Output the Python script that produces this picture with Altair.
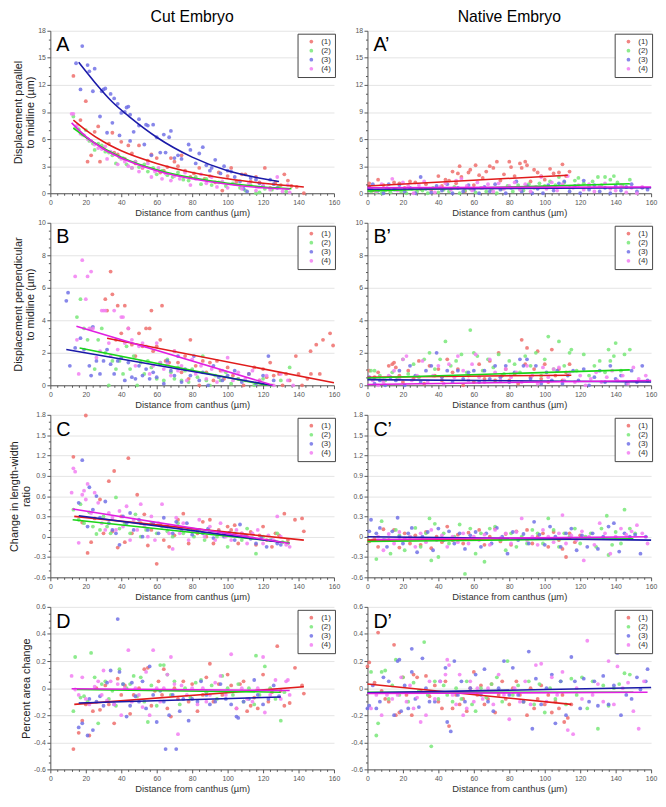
import altair as alt
import pandas as pd

SERIES = ["(1)", "(2)", "(3)", "(4)"]
POINT_COLORS = ["#ef6f6c", "#79e879", "#7272e6", "#f27ff2"]
LINE_COLORS = ["#e01b1b", "#19d419", "#1a1aa8", "#e11fe1"]
FONT = "Liberation Sans"

# ---------------- Row A: displacement parallel to midline ----------------
A_cut_1 = [(13,13),(17,8.1),(20,10.2),(21,3.5),(23,4.2),(25,6.8),(27,7.4),(28,3.5),(30,5),(33,5.5),(35,6.7),(36,4.5),(38,4.3),(40,5.7),(42,3.8),(44,5.3),(46,4.4),(48,3.3),(50,5.3),(52,2.8),(55,3.6),(57,4.3),(60,3.9),(62,2.3),(64,2.5),(66,2.9),(68,3.9),(70,3.5),(72,3.0),(74,4.2),(76,2.5),(79,1.8),(81,2.2),(84,2.8),(87,1.6),(90,1.9),(93,1.2),(95,2.3),(97,0.3),(100,1.9),(102,2.8),(105,1.3),(108,2.1),(110,2.1),(113,1.3),(116,1.8),(118,1.2),(121,2.8),(124,0.6),(127,1.2),(130,0.9),(132,2.1),(134,1.4),(136,0.8),(139,0.7),(143,0)]
A_cut_2 = [(13,8.5),(14,7.2),(16,7.1),(18,6.5),(20,7),(22,5.8),(24,5.5),(25,4.8),(27,5.5),(29,5.3),(31,4.6),(33,4.5),(35,4.2),(37,3.3),(39,4.0),(41,3.9),(43,3.2),(46,2.8),(48,3.5),(50,2.9),(53,3.2),(55,2.4),(58,2.8),(60,2.1),(63,2.5),(66,2.0),(69,1.8),(72,2.3),(75,1.5),(78,1.4),(82,1.8),(85,1.0),(88,1.6),(91,0.9),(95,1.2),(99,0.8),(103,1.1),(107,0.6),(110,0.3),(113,0.9),(116,0),(118,0.1),(121,0.5),(125,0.4),(129,0.8),(133,0.2)]
A_cut_3 = [(14.5,14.4),(18,16.3),(17,11.5),(21,14.2),(22,13.5),(25,13.8),(24,11.3),(28,8.5),(29,11.3),(30,11.5),(31,11.6),(32,6.7),(34,11),(35,7.8),(36,10.5),(38,9.9),(39,6.4),(40,8.9),(42,9),(43,9.5),(44,9.6),(45,5.8),(45,8.7),(47,6.8),(50,8.2),(50,7.5),(53,5.4),(54,7.6),(55,7.5),(57,4.2),(58,7.6),(60,6.2),(62,4.5),(64,6.5),(65,4.5),(67,6.2),(68,6.9),(70,3.9),(72,4.2),(74,3.8),(78,5.4),(79,4.8),(82,3.3),(84,4.4),(86,5.1),(88,3.1),(90,2.5),(91,2.8),(93,3.7),(96,2.2),(98,3),(100,2.5),(102,2.4),(104,1.8),(107,1.3),(109,0.5),(111,0.2),(113,1.7),(116,1.5),(118,1.1),(120,0.8),(124,1.5),(126,1.0),(128,0.6)]
A_cut_4 = [(12,8.8),(13,8.8),(15,7.5),(17,6.6),(19,6.4),(21,6.0),(23,5.8),(25,5.4),(27,5.0),(29,4.9),(31,5.2),(32,3.8),(34,4.6),(36,4.3),(38,3.2),(40,3.8),(42,3.5),(44,3.0),(46,2.8),(48,3.5),(50,2.4),(52,2.9),(55,3.3),(57,1.8),(59,2.4),(61,2.8),(63,1.6),(65,2.2),(68,1.4),(70,1.9),(73,1.6),(76,2.3),(79,0.9),(82,1.6),(85,2.1),(88,1.1),(91,1.8),(94,0.7),(97,1.3),(100,0.6),(104,1.0),(108,0.5),(112,1.1),(116,0.3),(120,0.8),(124,0.4),(128,1.8),(131,0.2),(134,0.9),(135,0.1)]
A_nat_1 = [(1,1.1),(3,0.3),(6,1.5),(9,0.9),(12,0.4),(15,1.2),(18,1.1),(21,0.6),(24,1.3),(27,1.2),(30,0.5),(33,1.0),(36,0.4),(40,1.9),(42,0.8),(44,1.5),(46,1.4),(48,2.4),(50,1.1),(51,2.2),(52,3.0),(53,1.8),(55,0.2),(57,2.3),(58,2.6),(60,0.9),(61,3.1),(63,2.0),(65,1.7),(67,2.4),(69,3.0),(71,2.8),(73,3.5),(75,1.4),(77,2.1),(80,3.5),(81,2.9),(83,1.9),(86,3.3),(87,2.8),(89,3.5),(90,3.1),(92,1.3),(94,2.6),(96,2.3),(98,1.9),(100,1.5),(103,2.7),(105,2.2),(108,2.3),(110,3.2),(112,1.9),(114,2.4)]
A_nat_2 = [(2,0.2),(5,0.1),(8,0.0),(10,0.3),(13,0.1),(16,0.4),(19,0.2),(22,0.0),(25,0.5),(28,0.2),(31,0.3),(34,0.0),(37,0.6),(40,0.1),(43,0.4),(46,0.2),(49,0.7),(52,0.0),(55,0.3),(58,0.5),(61,0.1),(64,0.6),(67,0.2),(70,0.4),(73,0.0),(76,0.5),(79,0.8),(82,0.2),(85,0.9),(88,0.3),(91,1.0),(94,0.6),(97,1.1),(100,0.8),(103,1.3),(106,0.9),(108,1.8),(111,1.2),(114,0.6),(117,1.4),(119,1.7),(122,1.1),(125,0.8),(127,1.3),(130,1.8),(132,0.9),(134,1.8),(137,1.5),(139,1.9),(141,1.2),(144,0.8),(148,1.5)]
A_nat_3 = [(1,0.7),(3,1.0),(6,0.3),(9,0.0),(12,1.0),(15,0.4),(18,0.9),(21,0.2),(24,0.6),(27,0.0),(30,1.8),(33,0.5),(36,0.1),(39,0.8),(42,0.3),(45,1.0),(48,0.0),(51,0.6),(54,0.2),(57,0.9),(60,0.4),(63,0.0),(66,0.7),(69,0.2),(72,1.0),(75,0.4),(78,0.0),(81,0.6),(84,1.3),(87,0.2),(90,0.8),(93,0.0),(96,0.5),(99,0.0),(102,0.9),(105,0.3),(108,1.1),(111,1.3),(114,0.2),(117,0.8),(120,0.0),(122,1.4),(125,0.4),(128,0.9),(131,0.2),(134,0.6),(137,0.0),(140,0.8),(143,0.3),(146,0.7),(149,1.0),(152,0.2),(155,0.6),(158,0.4)]
A_nat_4 = [(2,0.5),(5,0.2),(8,1.0),(11,0.6),(14,1.6),(17,0.3),(20,1.2),(23,0.8),(26,0.0),(29,0.9),(32,1.3),(35,0.5),(38,0.1),(41,0.7),(44,1.1),(47,0.4),(50,1.4),(53,1.6),(56,0.8),(59,0.3),(62,1.2),(65,0.6),(68,1.0),(71,0.2),(74,1.1),(77,0.5),(80,0.8),(83,1.2),(86,0.4),(89,1.0),(92,0.2),(95,0.7),(98,1.8),(101,0.5),(104,1.2),(107,0.3),(110,1.0),(113,1.9),(116,0.6),(119,0.9),(122,0.4),(125,1.0),(128,0.2),(131,0.8),(134,1.1),(137,0.5),(140,0.3),(143,0.9),(146,0.1),(149,0.6),(152,0.0),(155,0.7)]
A_cut_fit_1 = [(13,8.1),(20,7.0),(30,5.7),(40,4.7),(60,3.3),(80,2.3),(100,1.6),(120,1.1),(143,0.7)]
A_cut_fit_2 = [(13,7.2),(20,6.2),(30,5.0),(40,4.0),(60,2.6),(80,1.7),(100,1.1),(120,0.7),(136,0.5)]
A_cut_fit_3 = [(16,14.5),(25,12.3),(35,10.1),(45,8.4),(60,6.2),(80,4.0),(100,2.5),(115,1.8),(129,1.3)]
A_cut_fit_4 = [(12,7.8),(20,6.3),(30,4.9),(40,3.9),(60,2.5),(80,1.6),(100,1.0),(120,0.6),(135,0.45)]
A_nat_fit_1 = [(0,0.8),(113,2.0)]
A_nat_fit_2 = [(0,0.25),(148,1.05)]
A_nat_fit_3 = [(0,0.45),(160,0.6)]
A_nat_fit_4 = [(0,0.6),(160,0.7)]

# ---------------- Row B: displacement perpendicular to midline ----------------
B_cut_1 = [(31,5.3),(32,4.6),(34,7.0),(35,5.6),(37,2.8),(38,4.9),(40,3.2),(42,4.9),(44,3.5),(46,2.5),(48,1.8),(50,3.2),(52,2.4),(54,3.5),(56,3.5),(57,4.6),(58,2.1),(60,2.4),(62,2.8),(63,4.9),(65,1.5),(67,1.4),(70,2.1),(72,1.4),(74,0.8),(76,1.8),(78,0.4),(79,2.8),(82,1.2),(84,0.0),(86,1.5),(88,0.8),(90,1.4),(92,0.3),(94,1.5),(96,0.9),(98,0.4),(100,1.1),(103,0.6),(106,0.4),(109,0.0),(112,0.7),(115,1.1),(118,0.3),(120,1.0),(122,0.5),(124,1.4),(126,0.6),(129,0.7),(131,0.0),(133,0.7),(135,0.3),(138.5,1.8),(140,0.7),(142,0.0),(146.8,2.1),(145,0.4),(147,0.7),(150,2.5),(152,0.7),(153.8,2.8),(157.8,3.2),(159.5,2.45)]
B_cut_2 = [(15,4.2),(17,5.3),(19,3.5),(21,2.8),(23,3.5),(25,1.0),(27,2.8),(29,3.5),(31,2.0),(33,0.0),(35,1.5),(37,1.0),(39,1.5),(41,0.7),(43,2.4),(45,1.0),(47,1.8),(49,0.0),(51,1.4),(53,0.7),(55,1.5),(57,1.1),(60,0.4),(62,1.4),(64,0.3),(66,1.6),(68,0.8),(70,0.4),(72,1.1),(74,0.3),(76,0.9),(78,0.2),(80,1.0),(83,0.5),(86,1.8),(88,0.3),(90,0.0),(93,0.6),(96,0.3),(99,0.8),(102,0.1),(106,0.4),(110,0.3),(115,0.0),(120,0.4),(125,0.0),(130,0.3),(135,1.1)]
B_cut_3 = [(9,5.2),(10,5.7),(11,1.2),(14,2.3),(17,2.9),(19,2.2),(22,1.2),(23,0.6),(24,3.6),(26,1.5),(28,0.7),(30,1.5),(32,2.2),(34,1.3),(36,0.7),(38,1.5),(40,1.7),(42,0.3),(44,1.4),(46,0.5),(48,0.4),(50,1.2),(52,0.6),(54,1.0),(56,0.4),(58,0.8),(60,0.5),(62,1.3),(64,0.1),(66,1.5),(68,0.9),(70,0.6),(72,1.8),(74,0.2),(76,1.0),(79,0.6),(81,1.8),(84,0.3),(86,0.8),(89,0.0),(92,1.2),(95,0.5),(97,0.3),(100,0.6),(104,0.9),(108,0.2),(112,0.7),(116,0.1),(120,0.6),(123,1.8),(126,0.3)]
B_cut_4 = [(14,6.7),(15,2.8),(16,0.7),(18,7.7),(20,5.3),(21,6.7),(22,3.5),(23,7.0),(24,3.5),(26,1.7),(28,2.1),(29,4.6),(30,4.6),(31,4.6),(33,2.6),(34,1.8),(36,4.6),(38,2.2),(40,4.2),(41,4.2),(42,2.6),(44,3.5),(46,2.8),(48,1.2),(50,2.4),(52,2.6),(54,2.4),(56,0.7),(58,1.2),(60,2.6),(62,1.4),(64,1.0),(66,1.3),(68,0.6),(70,2.1),(72,0.9),(74,1.2),(77,0.3),(80,1.6),(82,0.7),(85,1.2),(88,0.4),(91,1.0),(94,0.2),(97,0.9),(100,1.7),(103,0.3),(106,0.8),(110,0.4),(114,0.9),(118,0.3),(122,0.6),(126,0.0),(130,0.7),(134,0.3),(137,0.0)]
B_nat_1 = [(1,0.9),(4,0.5),(6,0.8),(9,0.3),(12,1.2),(14,1.3),(15,1.4),(16,1.1),(18,0.6),(20,0.2),(23,0.9),(26,0.4),(29,1.5),(32,0.1),(35,1.2),(38,0.6),(40,1.0),(42,0.3),(45,1.6),(48,0.8),(51,1.0),(54,0.0),(57,0.6),(60,0.2),(63,1.3),(66,0.4),(69,1.5),(72,0.3),(74,2.0),(76,0.6),(78,1.0),(80,0.3),(83,0.7),(85,0.1),(87,2.8),(89,1.3),(90,2.3),(92,0.5),(94,1.0),(96,2.1),(98,0.4),(100,1.3),(102,0.2),(104,2.2),(106,0.6),(108,1.0),(110,0.3),(112,0.8),(114,1.3)]
B_nat_2 = [(2,0.9),(4,0.9),(7,0.6),(10,0.3),(14,0.8),(17,0.4),(20,1.6),(23,0.7),(26,1.3),(29,0.5),(32,1.6),(35,2.0),(38,1.0),(41,1.6),(44,2.7),(47,1.2),(50,1.5),(53,1.9),(56,0.8),(58,3.4),(60,2.0),(62,1.8),(65,0.9),(68,1.6),(71,1.1),(74,1.9),(77,0.7),(80,1.5),(83,1.3),(86,0.8),(89,1.8),(92,1.2),(95,2.0),(98,0.6),(100,1.6),(102,3.0),(105,1.0),(108,2.7),(111,1.2),(114,2.0),(115,2.2),(118,0.9),(122,1.9),(125,0.6),(128,1.2),(131,1.5),(134,0.8),(136,2.2),(137,1.5),(139,1.8),(140,2.6),(143,0.9),(145,1.9),(148,2.2)]
B_nat_3 = [(1,0.5),(4,0.1),(7,0.3),(10,0.0),(13,0.5),(16,0.3),(18,0.9),(21,0.0),(24,1.2),(27,0.6),(30,0.2),(33,0.9),(36,1.2),(39,2.0),(42,0.5),(45,0.9),(48,0.2),(51,0.9),(54,0.4),(57,0.8),(60,0.9),(63,0.2),(66,0.9),(69,0.4),(72,1.2),(75,0.5),(78,1.2),(80,0.2),(83,0.8),(86,1.6),(88,1.2),(90,1.6),(92,0.4),(95,1.2),(98,0.1),(101,0.8),(104,0.3),(107,0.9),(110,0.1),(113,0.6),(116,0.9),(119,0.3),(122,1.0),(125,0.0),(128,0.5),(131,0.9),(134,0.2),(137,1.2),(140,0.4),(143,0.6),(146,0.1),(149,0.9),(152,0.2),(155,1.2),(158,0.3)]
B_nat_4 = [(3,0.3),(6,0.0),(9,0.2),(12,0.6),(15,0.9),(18,0.4),(20,1.6),(22,1.8),(25,0.3),(28,0.6),(31,1.5),(34,0.2),(37,0.6),(40,1.2),(43,0.1),(46,1.3),(49,0.5),(51,1.8),(54,0.9),(57,0.3),(59,1.3),(61,1.9),(63,0.5),(66,0.2),(69,1.6),(72,0.8),(75,0.3),(78,1.0),(81,0.5),(84,0.8),(87,0.2),(90,1.2),(93,0.6),(96,0.1),(99,1.1),(102,0.5),(105,1.0),(108,1.1),(111,0.3),(114,0.8),(117,0.2),(120,0.6),(123,0.0),(126,0.4),(129,0.8),(132,0.2),(135,0.5),(138,0.9),(141,0.3),(144,0.6),(147,0.1),(150,1.1),(153,0.4),(157,0.6)]
B_cut_fit_1 = [(32,2.9),(160,0.15)]
B_cut_fit_2 = [(16.5,2.3),(122,0.0)]
B_cut_fit_3 = [(9,2.2),(125,0.0)]
B_cut_fit_4 = [(14.7,3.64),(125.7,0.0)]
B_nat_fit_1 = [(0,0.5),(115,0.62)]
B_nat_fit_2 = [(0,0.45),(148,0.95)]
B_nat_fit_3 = [(0,0.35),(160,0.2)]
B_nat_fit_4 = [(0,0.05),(160,0.3)]

# ---------------- Row C: change in length-width ratio ----------------
C_cut_1 = [(13,1.18),(18,0.21),(20,1.79),(21,-0.24),(23,-0.08),(25,0.27),(28,0.55),(30,0.05),(33,0.82),(35,0.08),(36,0.97),(38,-0.16),(40,0.3),(42,-0.08),(44,1.16),(46,0.05),(49,0.62),(51,0.2),(53,0.33),(55,-0.13),(57,0.1),(60,-0.4),(62,0.18),(64,-0.05),(67,-0.15),(70,0.02),(72,0.25),(75,0.34),(78,-0.1),(80,0.1),(83,0.05),(86,0.22),(88,0.0),(90,0.25),(92,-0.1),(95,0.1),(98,0.05),(100,0.15),(102,0.1),(104,0.17),(106,-0.1),(108,0.05),(111,0.0),(113,0.07),(116,-0.12),(118,0.02),(120,0.15),(122,-0.05),(125,-0.15),(127,0.05),(129,0.02),(132,0.34),(134,-0.05),(138,0.25),(142,0.27),(143,0.08)]
C_cut_2 = [(13,0.4),(16,0.25),(17,0.48),(19,0.2),(22,0.36),(24,0.15),(26,0.04),(28,0.1),(30,0.3),(32,0.15),(34,0.05),(37,0.58),(39,0.12),(42,0.2),(45,0.05),(48,0.33),(51,0.0),(54,0.1),(57,0.2),(60,0.05),(63,0.15),(66,0.08),(69,0.0),(72,0.2),(75,0.05),(78,0.1),(81,0.0),(84,0.1),(87,-0.05),(90,0.08),(94,0.0),(98,0.05),(100,-0.15),(104,0.05),(108,-0.05),(111,0.12),(114,-0.02),(116,-0.25),(120,0.0),(124,-0.05),(128,0.05),(131,-0.08),(134,-0.1)]
C_cut_3 = [(16,0.5),(18,1.13),(21,0.15),(22,0.73),(24,0.4),(26,0.6),(28,0.28),(31,0.52),(33,0.2),(35,0.1),(37,0.05),(39,-0.12),(41,0.3),(43,0.2),(45,0.35),(47,0.1),(50,0.25),(52,0.0),(55,0.1),(58,0.2),(61,0.05),(64,0.28),(66,0.15),(69,0.05),(71,0.22),(74,0.1),(77,0.2),(80,0.03),(83,0.1),(86,0.05),(89,0.12),(92,-0.02),(95,0.08),(98,0.0),(101,0.06),(104,-0.05),(107,0.18),(110,0.02),(113,-0.03),(116,-0.1),(119,0.0),(122,-0.15),(125,-0.05),(128,-0.1),(130,-0.12)]
C_cut_4 = [(12,0.65),(13,1.01),(14,0.96),(16,-0.09),(18,0.62),(19,0.68),(20,0.55),(21,0.78),(23,0.35),(25,0.65),(27,0.5),(29,0.2),(31,0.1),(33,0.35),(35,0.28),(37,0.1),(39,0.38),(41,0.15),(43,0.45),(45,-0.05),(47,0.25),(49,0.1),(51,0.48),(53,0.15),(55,0.0),(57,0.3),(59,-0.05),(61,0.2),(63,0.48),(65,0.15),(67,0.05),(69,-0.18),(71,0.28),(73,0.05),(75,0.2),(78,-0.05),(81,0.1),(84,0.25),(87,0.0),(90,0.15),(93,-0.05),(96,0.2),(99,0.0),(102,-0.05),(105,0.1),(108,0.05),(111,-0.1),(114,0.05),(117,0.1),(120,-0.1),(123,0.02),(126,-0.05),(128,0.3),(130,0.0),(133,-0.12),(135,-0.15)]
C_nat_1 = [(1,-0.07),(4,-0.02),(6,-0.15),(9,0.11),(12,-0.05),(15,0.1),(18,-0.16),(21,0.05),(24,-0.1),(27,0.02),(30,-0.12),(33,0.07),(36,-0.17),(39,0.0),(42,-0.08),(45,0.15),(48,-0.05),(51,0.03),(54,-0.1),(57,0.06),(60,-0.03),(63,0.1),(66,-0.12),(69,0.0),(72,0.12),(75,-0.07),(78,0.04),(81,-0.12),(84,0.08),(87,-0.02),(90,0.1),(93,-0.1),(96,0.0),(99,0.05),(102,-0.15),(105,0.07),(108,-0.05),(110,-0.18),(112,-0.3),(114,0.05),(117,-0.08),(120,0.02)]
C_nat_2 = [(5,-0.33),(8,0.23),(10,-0.05),(13,-0.25),(16,0.1),(18,0.02),(21,-0.2),(24,0.0),(27,0.13),(30,-0.15),(33,0.05),(35,0.27),(36,-0.35),(38,0.19),(40,-0.3),(43,0.05),(46,-0.1),(49,0.0),(52,0.18),(55,-0.55),(58,0.12),(61,-0.25),(64,0.05),(66,-0.37),(69,0.12),(72,0.15),(75,-0.05),(78,-0.2),(81,0.05),(84,-0.15),(87,0.0),(90,-0.1),(93,0.1),(96,0.05),(99,-0.1),(102,0.27),(105,0.1),(108,-0.15),(111,0.05),(114,0.0),(117,0.12),(120,-0.1),(123,0.0),(126,0.05),(129,-0.15),(132,0.12),(135,0.31),(136,-0.27),(138,-0.12),(140,0.07),(143,-0.1),(145,0.4),(148,0.12),(151,0.05)]
C_nat_3 = [(1,0.08),(2,0.25),(5,0.05),(7,0.13),(9,-0.05),(11,-0.15),(14,0.08),(17,0.28),(18,0.0),(20,-0.1),(23,0.05),(25,0.13),(28,-0.23),(31,0.0),(34,0.07),(37,-0.2),(40,0.12),(43,-0.05),(46,0.08),(49,-0.1),(52,0.05),(55,-0.18),(58,0.02),(61,0.07),(64,-0.15),(67,0.05),(70,-0.1),(73,0.13),(76,0.0),(79,-0.25),(82,0.07),(85,-0.05),(88,0.04),(91,-0.1),(94,0.22),(97,0.03),(100,-0.12),(103,0.15),(106,0.0),(109,-0.15),(112,0.05),(115,0.12),(118,-0.2),(121,0.02),(124,-0.15),(127,0.05),(130,-0.18),(133,0.0),(136,0.15),(139,0.2),(142,-0.22),(145,0.05),(148,0.0),(151,0.03),(154,-0.25),(157,0.0)]
C_nat_4 = [(3,-0.05),(6,0.0),(9,-0.2),(12,0.04),(15,-0.1),(18,0.07),(21,-0.03),(24,0.0),(27,-0.15),(30,0.05),(33,-0.08),(36,0.1),(39,-0.05),(42,0.02),(45,-0.15),(48,0.0),(51,-0.08),(54,0.05),(57,-0.1),(60,0.0),(63,-0.05),(66,0.03),(69,-0.12),(72,0.1),(75,-0.02),(78,0.05),(81,-0.1),(84,0.07),(87,0.27),(90,-0.05),(93,0.0),(96,-0.12),(99,0.1),(102,0.0),(105,-0.08),(108,0.05),(110,0.32),(112,-0.1),(115,0.02),(118,-0.05),(121,0.08),(122,-0.35),(125,0.0),(128,-0.12),(131,0.2),(134,0.05),(137,-0.25),(140,0.0),(143,0.12),(146,0.03),(149,0.08),(152,0.17),(155,0.05),(158,-0.1)]
C_cut_fit_1 = [(13.5,0.30),(143,-0.05)]
C_cut_fit_2 = [(12.6,0.25),(135,-0.09)]
C_cut_fit_3 = [(16,0.31),(130,-0.08)]
C_cut_fit_4 = [(12.6,0.41),(135,-0.10)]
C_nat_fit_1 = [(0,-0.05),(115,-0.02)]
C_nat_fit_2 = [(0,-0.07),(150,-0.03)]
C_nat_fit_3 = [(0,0.0),(160,-0.05)]
C_nat_fit_4 = [(5,-0.04),(158,0.0)]

# ---------------- Row D: percent area change ----------------
D_cut_1 = [(13,-0.45),(16,-0.33),(18,-0.24),(20,-0.12),(22,-0.35),(24,-0.17),(26,0.0),(28,-0.16),(31,0.02),(33,-0.12),(36,-0.26),(38,0.07),(40,-0.05),(42,0.02),(45,-0.19),(47,-0.05),(50,0.0),(53,0.14),(55,0.15),(57,-0.13),(59,-0.02),(61,0.05),(63,-0.05),(64,0.14),(66,-0.15),(68,-0.21),(70,0.0),(72,-0.08),(75,0.05),(78,-0.1),(80,0.03),(83,-0.17),(86,-0.05),(88,0.08),(90,0.18),(92,-0.1),(95,0.03),(97,-0.05),(100,0.1),(102,0.02),(105,-0.15),(107,0.03),(109,0.05),(111,-0.17),(113,-0.13),(115,-0.07),(117,-0.15),(120,0.1),(123,-0.1),(125,-0.03),(128,0.31),(130,-0.02),(132,-0.13),(135,-0.11),(138,0.15),(142,0.02),(143,-0.04)]
D_cut_2 = [(13,-0.17),(14,0.23),(17,-0.07),(19,-0.06),(21,-0.1),(23,0.26),(25,0.08),(27,-0.26),(29,0.03),(31,0.05),(33,-0.08),(35,-0.02),(37,-0.13),(39,0.14),(41,0.03),(43,0.0),(45,0.03),(47,0.09),(49,-0.06),(51,0.08),(53,-0.1),(55,-0.25),(57,0.02),(60,-0.13),(62,0.17),(64,0.17),(66,0.1),(68,-0.05),(70,0.05),(73,-0.12),(76,0.0),(79,-0.07),(82,0.04),(85,0.06),(88,-0.03),(91,0.02),(94,-0.08),(97,0.09),(100,0.0),(103,-0.05),(106,0.03),(109,-0.1),(112,0.0),(115,-0.12),(116,0.24),(118,-0.05),(121,0.16),(124,0.0),(127,-0.08),(130,-0.24),(132,-0.03)]
D_cut_3 = [(16,-0.29),(18,-0.26),(21,-0.35),(22,-0.08),(24,-0.31),(26,-0.1),(28,-0.06),(30,-0.13),(32,0.04),(34,0.13),(36,-0.12),(38,0.51),(39,0.12),(41,0.03),(43,-0.21),(45,-0.13),(46,0.04),(48,-0.06),(50,-0.1),(52,0.05),(54,-0.15),(56,0.16),(58,-0.05),(60,-0.25),(62,-0.02),(64,-0.1),(65,-0.45),(67,-0.2),(69,-0.05),(71,-0.45),(73,-0.17),(75,-0.08),(78,-0.24),(80,-0.08),(83,-0.1),(85,0.05),(88,-0.05),(90,-0.12),(93,-0.1),(96,0.03),(99,-0.08),(102,-0.12),(105,-0.21),(106,-0.22),(109,-0.1),(112,-0.08),(115,0.06),(117,-0.05),(120,-0.12),(123,-0.08),(126,0.02),(129,-0.06)]
D_cut_4 = [(12,0.09),(14,-0.01),(16,-0.05),(18,0.08),(20,-0.08),(22,-0.12),(25,0.01),(27,0.05),(29,-0.05),(30,0.13),(32,-0.09),(34,0.05),(36,-0.12),(38,0.03),(40,-0.2),(42,0.0),(44,0.28),(46,-0.1),(48,0.0),(50,-0.05),(52,-0.14),(54,0.12),(56,-0.2),(58,0.28),(60,0.0),(62,-0.1),(64,0.0),(66,0.1),(68,0.23),(70,0.03),(72,-0.34),(74,0.02),(77,-0.05),(80,0.0),(83,-0.12),(86,0.0),(88,-0.1),(90,-0.05),(93,0.04),(96,0.09),(99,-0.05),(102,0.25),(105,-0.15),(108,0.0),(111,-0.08),(114,-0.1),(117,0.0),(120,0.23),(121,-0.18),(124,-0.05),(127,0.06),(130,-0.08),(133,0.05),(134,0.06),(135,-0.05)]
D_nat_1 = [(0,0.16),(1,0.19),(4,0.04),(6,0.41),(8,-0.02),(10,-0.08),(12,-0.1),(15,0.32),(16,-0.2),(18,-0.18),(20,0.08),(22,-0.05),(25,-0.2),(26,0.1),(28,0.08),(30,-0.02),(33,0.09),(35,-0.06),(38,0.02),(40,-0.1),(42,-0.15),(44,0.05),(46,-0.28),(48,-0.15),(50,-0.05),(52,-0.12),(54,-0.08),(56,-0.17),(58,0.0),(60,0.12),(62,-0.05),(64,0.02),(66,-0.12),(68,-0.08),(70,0.03),(72,-0.18),(74,-0.05),(76,0.05),(78,-0.08),(80,-0.12),(82,0.0),(84,0.05),(86,-0.05),(88,-0.1),(90,-0.2),(92,0.0),(94,-0.15),(96,-0.08),(98,0.02),(100,-0.12),(102,-0.05),(104,-0.18),(106,-0.1),(108,-0.15),(110,-0.05),(111,-0.25),(113,-0.22),(115,-0.12)]
D_nat_2 = [(2,0.12),(5,-0.35),(6,-0.26),(8,0.12),(10,0.13),(12,-0.08),(14,0.02),(16,0.21),(18,-0.05),(20,0.08),(23,-0.1),(26,0.04),(29,-0.02),(32,0.34),(34,-0.05),(36,-0.43),(38,0.05),(40,-0.08),(43,0.02),(45,-0.05),(48,-0.1),(50,0.0),(53,-0.08),(56,0.05),(59,-0.12),(61,-0.17),(64,0.0),(67,-0.07),(70,0.03),(73,0.08),(76,-0.1),(79,0.2),(82,-0.05),(85,0.02),(88,-0.1),(91,0.05),(94,-0.12),(97,0.03),(100,-0.18),(103,0.0),(106,-0.08),(109,0.05),(112,-0.12),(115,0.07),(118,-0.05),(121,0.08),(124,-0.15),(127,0.05),(130,-0.3),(133,0.02),(136,-0.13),(139,0.0),(142,0.03),(145,0.11),(148,0.1)]
D_nat_3 = [(0,-0.15),(1,-0.13),(3,0.02),(5,-0.15),(7,-0.1),(9,0.08),(12,0.05),(15,-0.2),(17,0.2),(18,0.21),(19,-0.17),(21,0.02),(23,-0.15),(25,0.29),(25,0.12),(27,-0.08),(29,-0.14),(31,0.22),(33,0.0),(35,-0.1),(38,-0.1),(41,0.05),(44,0.15),(45,-0.25),(47,-0.32),(49,0.2),(51,-0.05),(53,0.05),(55,-0.1),(58,0.0),(61,0.1),(64,-0.05),(66,0.14),(68,-0.1),(71,-0.17),(74,0.0),(77,0.2),(80,-0.05),(82,0.15),(85,-0.05),(88,-0.1),(91,0.27),(93,-0.3),(95,0.07),(98,-0.12),(101,0.0),(104,0.1),(106,-0.26),(109,0.05),(112,-0.2),(115,0.23),(117,0.05),(120,-0.15),(122,0.07),(125,-0.1),(128,0.05),(130,-0.13),(133,0.09),(136,-0.12),(139,0.02),(141,0.26),(143,-0.2),(146,-0.05),(149,-0.08),(152,0.08),(154,-0.01),(157,0.05),(158,0.14)]
D_nat_4 = [(2,-0.15),(5,-0.05),(8,-0.2),(11,-0.05),(14,-0.08),(17,-0.05),(19,0.08),(22,-0.1),(24,0.02),(26,-0.15),(28,-0.07),(30,-0.25),(33,-0.2),(35,0.05),(38,-0.08),(41,0.05),(44,0.1),(45,0.21),(46,0.17),(48,-0.05),(50,-0.12),(52,0.1),(54,-0.2),(56,-0.15),(58,0.05),(60,-0.1),(62,0.0),(65,-0.08),(68,0.0),(71,-0.12),(74,0.1),(77,-0.05),(80,-0.23),(83,0.0),(86,-0.1),(89,0.05),(92,-0.12),(95,0.17),(98,0.18),(101,-0.1),(104,0.08),(107,-0.05),(110,0.12),(113,-0.31),(116,-0.34),(118,0.0),(121,-0.08),(124,0.35),(127,-0.05),(130,0.03),(133,-0.1),(136,0.2),(139,-0.12),(141,0.16),(144,0.0),(147,0.04),(150,-0.17),(153,-0.3),(156,0.05)]
D_cut_fit_1 = [(13.5,-0.12),(143,0.01)]
D_cut_fit_2 = [(15,-0.01),(130,-0.03)]
D_cut_fit_3 = [(16,-0.11),(130,-0.065)]
D_cut_fit_4 = [(12,-0.005),(135,-0.017)]
D_nat_fit_1 = [(0,0.03),(115,-0.12)]
D_nat_fit_2 = [(0,-0.03),(150,-0.03)]
D_nat_fit_3 = [(0,-0.035),(160,0.005)]
D_nat_fit_4 = [(0,-0.04),(158,-0.03)]

# ---------------- axis / panel settings ----------------
ROWS = {
    "A": dict(domain=[0, 18], major=3, minor=1, fmt="d",
              title=["Displacement parallel", "to midline (µm)"]),
    "B": dict(domain=[0, 10], major=2, minor=0.5, fmt="d",
              title=["Displacement perpendicular", "to midline (µm)"]),
    "C": dict(domain=[-0.6, 1.8], major=0.3, minor=0.1, fmt=".1~f",
              title=["Change in length-width", "ratio"]),
    "D": dict(domain=[-0.6, 0.6], major=0.2, minor=0.05, fmt=".1~f",
              title="Percent area change"),
}
COL_TITLES = {"cut": "Cut Embryo", "nat": "Native Embryo"}
W, H = 288, 165


def frame(points_lists):
    rows = []
    for s, pts in zip(SERIES, points_lists):
        for x, y in pts:
            rows.append({"series": s, "x": x, "y": y})
    return pd.DataFrame(rows)


def tick_values(lo, hi, step):
    n = int(round((hi - lo) / step))
    return [round(lo + i * step, 6) for i in range(n + 1)]


def major_test(step):
    return f"abs(datum.value/{step} - round(datum.value/{step})) < 0.001"


def make_y_axis(cfg, with_title):
    test = major_test(cfg["major"])
    fmt = cfg["fmt"]
    kw = dict(
        values=tick_values(cfg["domain"][0], cfg["domain"][1], cfg["minor"]),
        labelExpr=f"{test} ? ((datum.value < -0.0001 ? '-' : '') + format(abs(datum.value), '{fmt}')) : ''",
        tickSize={"condition": {"test": test, "value": 3.5}, "value": 2},
        gridOpacity={"condition": {"test": test, "value": 1}, "value": 0},
        grid=True, labelOverlap=False, labelFlush=False, labelPadding=1.5,
    )
    if with_title:
        kw.update(title=cfg["title"], titlePadding=2)
    else:
        kw.update(title="")
    return alt.Axis(**kw)


def make_x_axis():
    test = major_test(20)
    return alt.Axis(
        values=tick_values(0, 160, 4),
        labelExpr=f"{test} ? format(datum.value, 'd') : ''",
        tickSize={"condition": {"test": test, "value": 3.5}, "value": 2},
        grid=False, labelOverlap=False, labelFlush=False, labelPadding=2,
        title="Distance from canthus (µm)", titlePadding=2,
    )


def panel(row, col):
    cfg = ROWS[row]
    g = globals()
    pts = frame([g[f"{row}_{col}_{i}"] for i in range(1, 5)])
    fits = frame([g[f"{row}_{col}_fit_{i}"] for i in range(1, 5)])
    letter = row if col == "cut" else row + "\u2019"
    xs = alt.Scale(domain=[0, 160], nice=False, zero=False)
    ys = alt.Scale(domain=cfg["domain"], nice=False, zero=False)
    x = alt.X("x:Q", scale=xs, axis=make_x_axis())
    y = alt.Y("y:Q", scale=ys, axis=make_y_axis(cfg, col == "cut"))
    legend = alt.Legend(
        title=None, orient="none", legendX=W - 37, legendY=3,
        strokeColor="#444", fillColor="white", padding=4, labelFontSize=8,
        labelColor="#333", symbolSize=14, symbolType="circle", rowPadding=1.2,
        labelOffset=6, symbolOffset=6, symbolStrokeWidth=0,
    )
    points = alt.Chart(pts).mark_circle(size=15, opacity=0.85).encode(
        x=x, y=y,
        color=alt.Color("series:N", scale=alt.Scale(domain=SERIES, range=POINT_COLORS), legend=legend),
    )
    lines = alt.Chart(fits).mark_line(strokeWidth=1.6, interpolate="monotone").encode(
        x=x, y=y,
        stroke=alt.Stroke("series:N", scale=alt.Scale(domain=SERIES, range=LINE_COLORS), legend=None),
        detail="series:N",
    )
    label = alt.Chart(pd.DataFrame({"t": [letter]})).mark_text(
        align="left", baseline="top", fontSize=20, font=FONT, color="black"
    ).encode(text="t:N", x=alt.value(6), y=alt.value(5))
    layers = [points, lines, label]
    if row == "A":
        head = alt.Chart(pd.DataFrame({"t": [COL_TITLES[col]]})).mark_text(
            align="center", baseline="alphabetic", fontSize=16, font=FONT, color="black"
        ).encode(text="t:N", x=alt.value(W / 2), y=alt.value(-9))
        layers.append(head)
    return alt.layer(*layers).properties(width=W, height=H)


panels = []
for r in ["A", "B", "C", "D"]:
    for c in ["cut", "nat"]:
        panels.append(panel(r, c))

chart = alt.concat(
    *panels, columns=2, spacing={"row": 30, "column": 34}, bounds="flush"
).resolve_scale(
    x="independent", y="independent", color="independent", stroke="independent"
).resolve_legend(color="independent").properties(
    padding={"left": 0, "top": -6, "right": 0, "bottom": 0}
).configure_view(stroke="transparent").configure_axis(
    domainColor="#555", tickColor="#555", labelColor="#555", labelFont=FONT,
    labelFontSize=7, titleFont=FONT, titleFontWeight="normal",
    titleFontSize=9.5, titleColor="#333", gridColor="#e4e4e4",
).configure_axisY(titleFontSize=11, titleColor="#222", titleLineHeight=12).configure_legend(
    labelFont=FONT
)

chart.save("out.html", embed_options={"renderer": "svg", "actions": False})
